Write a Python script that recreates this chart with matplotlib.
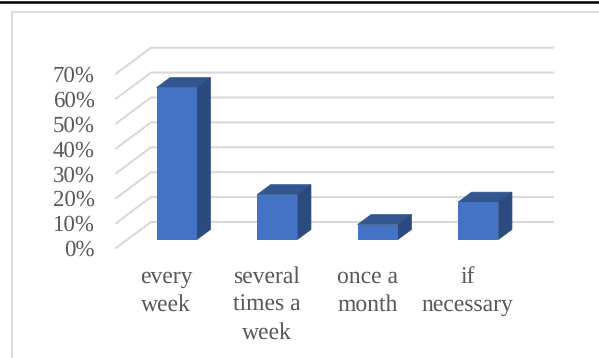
import numpy as np
import matplotlib.pyplot as plt
from matplotlib.lines import Line2D

categories = ['every\nweek', 'several\ntimes a\nweek', 'once a\nmonth', 'if\nnecessary']
values = [61, 18, 6, 15]
y_ticks = [0, 10, 20, 30, 40, 50, 60, 70]
y_labels = ['0%', '10%', '20%', '30%', '40%', '50%', '60%', '70%']

W, H = 599, 358
TEXT = '#595959'
GRID = '#d9d9d9'
FRONT = '#4472c4'
TOP = '#32578f'
SIDE = '#2a4a80'

plt.rcParams['font.family'] = ['Liberation Serif', 'DejaVu Serif']
plt.rcParams['text.hinting'] = 'none'

fig = plt.figure(figsize=(W / 100, H / 100), dpi=100, facecolor='white')

# front plane of the fake 3d box, in pixels
left, right = 116, 518
floor, top = 248, 73.7
ax = fig.add_axes([left / W, 1 - floor / H, (right - left) / W, (floor - top) / H])
ax.set_xlim(-0.5, 3.5)
ax.set_ylim(0, 70)
ax.patch.set_alpha(0)
for s in ax.spines.values():
    s.set_visible(False)

# oblique projection: pixels to data units
px_x = 4 / (right - left)
px_y = 70 / (floor - top)
wall_dx, wall_dy = 35 * px_x, 26 * px_y
bar_dx, bar_dy = 10.5 * px_x, 8.5 * px_y
depth_dx, depth_dy = 13.5 * px_x, 10 * px_y
bar_w = 40.4 * px_x

# back wall gridlines and left wall diagonals
for t in y_ticks:
    ax.plot([-0.5, -0.5 + wall_dx, 3.5 + wall_dx], [t, t + wall_dy, t + wall_dy],
            color=GRID, lw=1.5, clip_on=False, zorder=1, solid_joinstyle='miter')

x = np.arange(len(values))
xl = x + bar_dx - bar_w / 2
xr = x + bar_dx + bar_w / 2
for i, v in enumerate(values):
    ytop = v + bar_dy
    ax.fill([xl[i], xr[i], xr[i] + depth_dx, xl[i] + depth_dx],
            [ytop, ytop, ytop + depth_dy, ytop + depth_dy],
            color=TOP, lw=0.5, clip_on=False, zorder=2)
    ax.fill([xr[i], xr[i] + depth_dx, xr[i] + depth_dx, xr[i]],
            [bar_dy, bar_dy + depth_dy, ytop + depth_dy, ytop],
            color=SIDE, lw=0.5, clip_on=False, zorder=2)
ax.bar(x + bar_dx, values, width=bar_w, bottom=bar_dy, color=FRONT, clip_on=False, zorder=3)

ax.set_yticks(y_ticks)
ax.set_yticklabels(y_labels)
ax.set_xticks(x)
ax.set_xticklabels(categories, linespacing=1.37)
ax.tick_params(axis='y', length=0, pad=15.5, labelsize=16.5, labelcolor=TEXT)
ax.tick_params(axis='x', length=0, pad=13, labelsize=17, labelcolor=TEXT)

# chart frame and the black rule above it
fig.add_artist(Line2D([11.5 / W, 11.5 / W, 1], [0, 1 - 11.5 / H, 1 - 11.5 / H],
                      color=GRID, lw=1.3, solid_joinstyle='miter'))
fig.add_artist(Line2D([0, 1], [1 - 2 / H, 1 - 2 / H], color='black', lw=1.8))

fig.savefig('out.png', dpi=100)
